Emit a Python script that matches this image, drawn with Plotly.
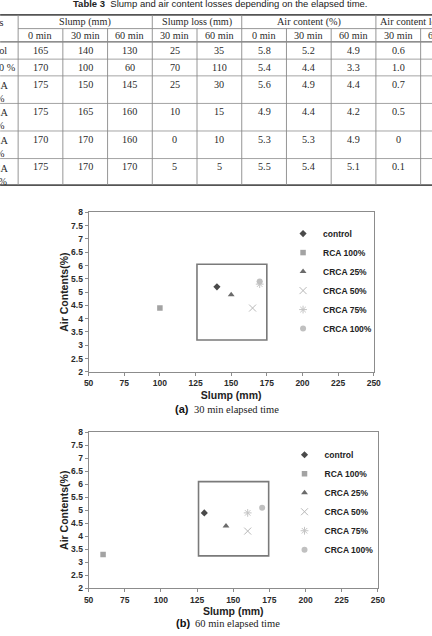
import plotly.graph_objects as go

W, H = 432, 636

# ---------------- data ----------------
mix_labels = ["Control", "RCA 100 %", "CRCA<br>25 %", "CRCA<br>50 %", "CRCA<br>75 %", "CRCA<br>100 %"]
legend_names = ["control", "RCA 100%", "CRCA 25%", "CRCA 50%", "CRCA 75%", "CRCA 100%"]
slump_0 = [165, 170, 175, 175, 170, 175]
slump_30 = [140, 100, 150, 165, 170, 170]
slump_60 = [130, 60, 145, 160, 160, 170]
slump_loss_30 = [25, 70, 25, 10, 0, 5]
slump_loss_60 = [35, 110, 30, 15, 10, 5]
air_0 = [5.8, 5.4, 5.6, 4.9, 5.3, 5.5]
air_30 = [5.2, 4.4, 4.9, 4.4, 5.3, 5.4]
air_60 = [4.9, 3.3, 4.4, 4.2, 4.9, 5.1]
air_loss_30 = [0.6, 1.0, 0.7, 0.5, 0, 0.1]

group_headers = ["Slump (mm)", "Slump loss (mm)", "Air content (%)", "Air content loss (%)"]
group_spans = [3, 2, 3, 2]
sub_headers = ["0 min", "30 min", "60 min", "30 min", "60 min",
               "0 min", "30 min", "60 min", "30 min", "60 min"]
table_title = "<b>Table 3</b>  Slump and air content losses depending on the elapsed time."
first_col_header = "Mixes"

box_a = [126, 175, 3.2, 6.05]   # highlight rectangle (slump, air)
box_b = [126, 174.5, 3.25, 6.1]

x_ticks = [50, 75, 100, 125, 150, 175, 200, 225, 250]

# ---------------- styles ----------------
marker_styles = [
    dict(symbol="diamond", size=5.5, color="#4a4a4a"),
    dict(symbol="square", size=5.5, color="#a3a3a3"),
    dict(symbol="triangle-up", size=6, color="#6b6b6b"),
    dict(symbol="x-thin-open", size=7, color="#b8b8b8", line=dict(width=1, color="#b8b8b8")),
    dict(symbol="asterisk-open", size=6.5, color="#c4c4c4", line=dict(width=1, color="#c4c4c4")),
    dict(symbol="circle", size=6, color="#c0c0c0"),
]

def px(x):
    return x / W

def py(y):
    return 1 - y / H

SERIF = "Liberation Serif"
SANS = "Liberation Sans"
TFS = 10.2  # table font size

fig = go.Figure()

# ---------------- table ----------------
shapes = []
annotations = []

col_edges = [13.5 + 46.0 * i for i in range(11)]
row_lines = [37.5, 55, 72, 100, 128, 156, 183]

def hline(y, x0, x1, w, c):
    shapes.append(dict(type="line", xref="paper", yref="paper",
                       x0=px(x0), x1=px(x1), y0=py(y), y1=py(y),
                       line=dict(color=c, width=w)))

def vline(x, y0, y1, w, c):
    shapes.append(dict(type="line", xref="paper", yref="paper",
                       x0=px(x), x1=px(x), y0=py(y0), y1=py(y1),
                       line=dict(color=c, width=w)))

hline(10, -5, 440, 1.8, "#555555")
hline(24, 13.5, 440, 0.9, "#8a8a8a")
hline(37.5, -5, 440, 1.1, "#6a6a6a")
for y in row_lines[1:-1]:
    hline(y, -5, 440, 0.9, "#9a9a9a")
hline(183, -5, 440, 1.8, "#555555")

group_edges = [0]
for s in group_spans:
    group_edges.append(group_edges[-1] + s)
for i, x in enumerate(col_edges):
    if i in group_edges:
        vline(x, 10, 183, 0.9, "#8a8a8a")
    else:
        vline(x, 24, 183, 0.9, "#8a8a8a")

def txt(x, y, s, size=TFS, family=SERIF, color="#2a2a2a", xanchor="center", yanchor="middle"):
    annotations.append(dict(xref="paper", yref="paper", x=px(x), y=py(y), text=s,
                            showarrow=False, xanchor=xanchor, yanchor=yanchor,
                            font=dict(family=family, size=size, color=color)))

txt(222, -1.5, table_title, size=9.5, family=SANS, color="#222222")

for gi, name in enumerate(group_headers):
    a, b = group_edges[gi], group_edges[gi + 1]
    txt((col_edges[a] + col_edges[b]) / 2, 17.3, name)
for ci, name in enumerate(sub_headers):
    txt((col_edges[ci] + col_edges[ci + 1]) / 2, 31, name)

first_col_x = -14
txt(first_col_x, 17.3, first_col_header)

def fmt_air(v):
    return "0" if v == 0 else f"{v:.1f}"

columns = [
    [str(v) for v in slump_0], [str(v) for v in slump_30], [str(v) for v in slump_60],
    [str(v) for v in slump_loss_30], [str(v) for v in slump_loss_60],
    [fmt_air(v) for v in air_0], [fmt_air(v) for v in air_30], [fmt_air(v) for v in air_60],
    [fmt_air(v) for v in air_loss_30],
]
for ri in range(len(mix_labels)):
    ytop = row_lines[ri]
    lab = mix_labels[ri]
    if "<br>" in lab:
        txt(first_col_x + 3, ytop + 2.0, lab, yanchor="top")
    else:
        txt(first_col_x, ytop + 8.3, lab)
    for ci, col in enumerate(columns):
        txt((col_edges[ci] + col_edges[ci + 1]) / 2, ytop + 8.3, col[ri])

# ---------------- scatter charts ----------------
for i, name in enumerate(legend_names):
    fig.add_trace(go.Scatter(x=[slump_30[i]], y=[air_30[i]], mode="markers", name=name,
                             marker=marker_styles[i], xaxis="x", yaxis="y", legend="legend"))
for i, name in enumerate(legend_names):
    fig.add_trace(go.Scatter(x=[slump_60[i]], y=[air_60[i]], mode="markers", name=name,
                             marker=marker_styles[i], xaxis="x2", yaxis="y2", legend="legend2"))

for box, xr, yr in [(box_a, "x", "y"), (box_b, "x2", "y2")]:
    shapes.append(dict(type="rect", xref=xr, yref=yr, x0=box[0], x1=box[1], y0=box[2], y1=box[3],
                       line=dict(color="#7a7a7a", width=1.6), fillcolor="rgba(0,0,0,0)"))

axis_common = dict(showline=True, linecolor="#8c8c8c", linewidth=1, mirror=True,
                   ticks="outside", ticklen=3, tickcolor="#8c8c8c", showgrid=False,
                   zeroline=False, fixedrange=True,
                   tickfont=dict(family=SANS, size=8.5, color="#2a2a2a", weight="bold"))
title_font = dict(family=SANS, size=10.5, color="#222222", weight="bold")
legend_font = dict(family=SANS, size=8.5, color="#222222", weight="bold")

fig.update_layout(
    xaxis=dict(domain=[px(86), px(379.3)], range=[50, 250], tickvals=x_ticks, anchor="y",
               title=dict(text="Slump (mm)", font=title_font, standoff=4), **axis_common),
    yaxis=dict(domain=[py(372.7), py(210.7)], range=[2, 8], dtick=0.5, anchor="x",
               title=dict(text="Air Contents(%)", font=title_font, standoff=0), **axis_common),
    xaxis2=dict(domain=[px(86), px(383.5)], range=[50, 250], tickvals=x_ticks, anchor="y2",
                title=dict(text="Slump (mm)", font=title_font, standoff=4), **axis_common),
    yaxis2=dict(domain=[py(592.7), py(434)], range=[2, 8], dtick=0.5, anchor="x2",
                title=dict(text="Air Contents(%)", font=title_font, standoff=0), **axis_common),
    legend=dict(x=px(286), xanchor="left", y=py(217.5), yanchor="top",
                font=legend_font, bgcolor="rgba(0,0,0,0)", tracegroupgap=0),
    legend2=dict(x=px(287.5), xanchor="left", y=py(442.2), yanchor="top",
                 font=legend_font, bgcolor="rgba(0,0,0,0)", tracegroupgap=0),
)

def caption(xsplit, y, tag, rest):
    annotations.append(dict(xref="paper", yref="paper", x=px(xsplit), y=py(y), text=f"<b>{tag}</b>",
                            showarrow=False, xanchor="right", yanchor="middle",
                            font=dict(family=SANS, size=11, color="#111111")))
    annotations.append(dict(xref="paper", yref="paper", x=px(xsplit + 1), y=py(y + 0.5), text=rest,
                            showarrow=False, xanchor="left", yanchor="middle",
                            font=dict(family=SERIF, size=10.5, color="#222222")))

caption(191, 410.5, "(a)", "30 min elapsed time")
caption(192, 628, "(b)", "60 min elapsed time")

fig.update_layout(
    width=W, height=H, autosize=False,
    margin=dict(l=0, r=0, t=0, b=0),
    paper_bgcolor="white", plot_bgcolor="white",
    shapes=shapes, annotations=annotations,
    showlegend=True,
)

fig.write_html("out.html", config={"displayModeBar": False})
